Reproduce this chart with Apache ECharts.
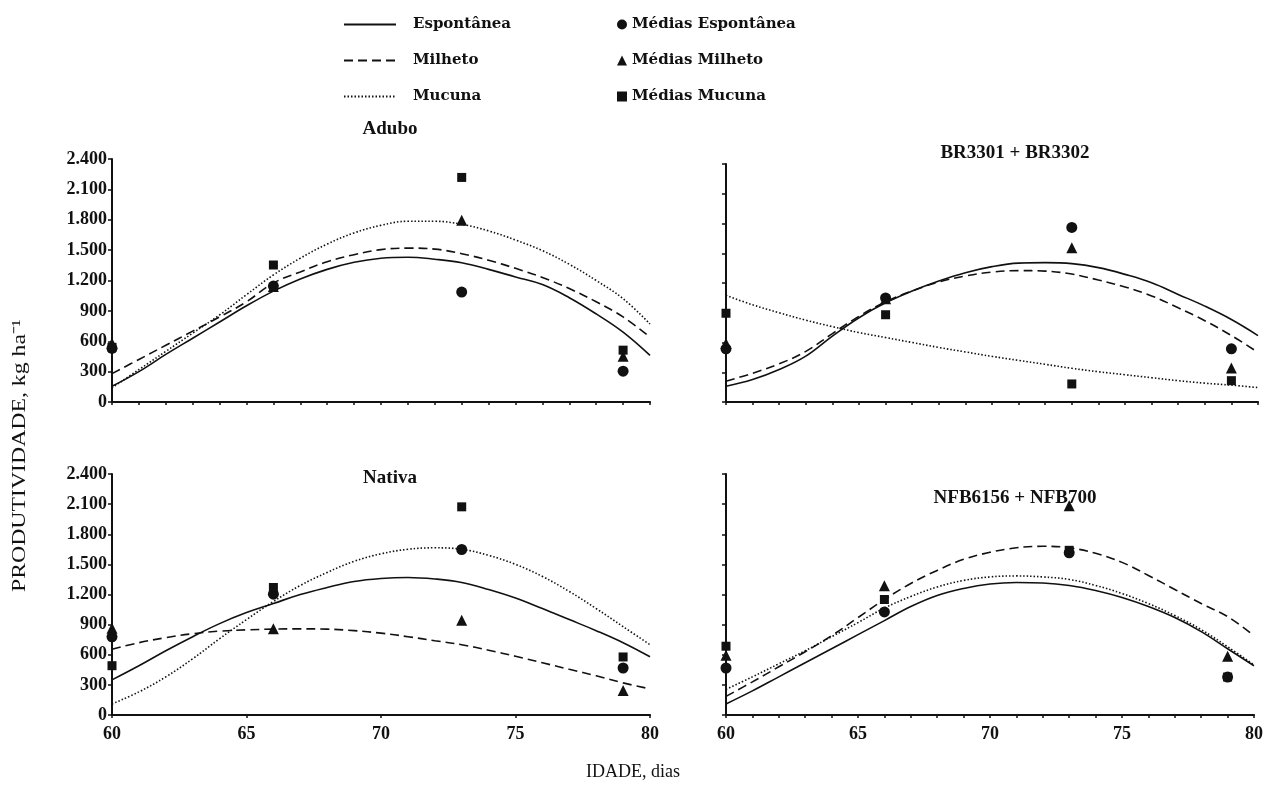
<!DOCTYPE html>
<html>
<head>
<meta charset="utf-8">
<script src="https://cdn.jsdelivr.net/npm/echarts@6/dist/echarts.min.js"></script>
<style>html,body{margin:0;padding:0;background:#fff}#c{width:1266px;height:789px}</style>
</head>
<body>
<div id="c"></div>
<script>
// ---- data ----
const days = [60,61,62,63,64,65,66,67,68,69,70,71,72,73,74,75,76,77,78,79,80];
const obsDays = [60,66,73,79];
const xTicks = [60,65,70,75,80];
const yTicks = [0,300,600,900,1200,1500,1800,2100,2400];

// Adubo fitted curves
const aduboEspCurve = [155,300,470,630,790,950,1095,1215,1310,1380,1420,1430,1410,1375,1310,1235,1160,1030,870,690,460];
const aduboMilCurve = [280,420,560,700,840,990,1175,1285,1385,1455,1505,1520,1510,1465,1400,1320,1230,1120,990,840,640];
const aduboMucCurve = [140,320,500,680,860,1060,1255,1420,1560,1670,1745,1785,1785,1755,1690,1600,1495,1360,1200,1020,770];
// Adubo means
const aduboEspObs = [530,1145,1086,304];
const aduboMilObs = [580,1140,1795,452];
const aduboMucObs = [540,1353,2218,512];

// BR3301 + BR3302 fitted curves
const brEspCurve = [158,226,327,462,664,850,1000,1119,1220,1304,1365,1400,1405,1395,1355,1287,1203,1085,967,832,670];
const brMilCurve = [210,290,385,510,690,865,1010,1120,1210,1270,1310,1325,1320,1290,1230,1160,1070,950,820,670,500];
const brMucCurve = [1075,980,900,825,760,700,650,600,550,505,460,420,380,340,305,275,245,215,190,170,145];
// BR means
const brEspObs = [536,1050,1760,536];
const brMilObs = [590,1040,1555,344];
const brMucObs = [895,880,182,215];

// Nativa fitted curves
const natEspCurve = [350,490,640,780,910,1020,1110,1200,1270,1330,1360,1370,1355,1320,1250,1165,1060,950,840,720,580];
const natMilCurve = [655,720,770,810,835,848,855,858,855,840,815,780,740,700,645,585,520,455,390,320,260];
const natMucCurve = [110,230,380,560,760,950,1130,1290,1420,1530,1605,1650,1665,1650,1590,1500,1380,1230,1060,880,700];
// Nativa means
const natEspObs = [779,1203,1648,468];
const natMilObs = [865,859,943,244];
const natMucObs = [491,1270,2073,578];

// NFB6156 + NFB700 fitted curves
const nfbEspCurve = [110,240,380,520,660,800,940,1080,1190,1260,1305,1320,1315,1290,1240,1170,1080,970,830,660,490];
const nfbMilCurve = [185,330,480,630,790,970,1150,1310,1440,1550,1620,1665,1680,1665,1610,1520,1390,1250,1110,980,790];
const nfbMucCurve = [255,380,510,640,780,920,1065,1180,1275,1340,1375,1385,1375,1350,1290,1210,1110,990,850,680,500];
// NFB means
const nfbEspObs = [468,1026,1615,378];
const nfbMilObs = [595,1287,2083,585];
const nfbMucObs = [685,1150,1640,378];

const panels = [
  {title:'Adubo', curves:[aduboEspCurve,aduboMilCurve,aduboMucCurve], obs:[aduboEspObs,aduboMilObs,aduboMucObs]},
  {title:'BR3301 + BR3302', curves:[brEspCurve,brMilCurve,brMucCurve], obs:[brEspObs,brMilObs,brMucObs]},
  {title:'Nativa', curves:[natEspCurve,natMilCurve,natMucCurve], obs:[natEspObs,natMilObs,natMucObs]},
  {title:'NFB6156 + NFB700', curves:[nfbEspCurve,nfbMilCurve,nfbMucCurve], obs:[nfbEspObs,nfbMilObs,nfbMucObs]}
];
const lineNames = ['Espontânea','Milheto','Mucuna'];
const obsNames = ['Médias Espontânea','Médias Milheto','Médias Mucuna'];

// ---- layout ----
const SERIF = '"Liberation Serif","Times New Roman",serif';
const WIDESERIF = '"DejaVu Serif","Liberation Serif",serif';
const grids = [
  {left:112, top:159, width:538, height:243},
  {left:726, top:164, width:532, height:238},
  {left:112, top:474, width:538, height:241},
  {left:726, top:474, width:532, height:241}
];
const titlePos = [
  {x:385, y:115},
  {x:1010, y:139},
  {x:385, y:464},
  {x:1010, y:484}
];
const lineStyles = [
  {type:'solid', width:1.6},
  {type:[9,5], width:1.6},
  {type:[1.5,2], width:1.6}
];
const symbols = ['circle','triangle','rect'];
const symSizes = [11,11,9];

function fmt(v){ return v >= 1000 ? Math.floor(v/1000) + '.' + String(v%1000).padStart(3,'0') : String(v); }

const xAxes = [], yAxes = [], series = [], titles = [];
panels.forEach((p,i)=>{
  const right = (i % 2) === 1;
  xAxes.push({
    gridIndex:i, type:'value', min:xTicks[0], max:xTicks[xTicks.length-1], interval:5,
    axisLine:{show:true, onZero:false, lineStyle:{color:'#111', width:2.2}},
    axisTick:{show:true, length:3, lineStyle:{color:'#111', width:1.5}},
    minorTick:{show: i !== 2, splitNumber:5, length:3, lineStyle:{color:'#111', width:1.5}},
    splitLine:{show:false},
    axisLabel:{show: i >= 2, color:'#111', fontFamily:SERIF, fontWeight:'bold', fontSize:18, margin:10}
  });
  yAxes.push({
    gridIndex:i, type:'value', min:yTicks[0], max:yTicks[yTicks.length-1], interval:300,
    axisLine:{show:true, lineStyle:{color:'#111', width:2}},
    axisTick:{show:true, length:4, lineStyle:{color:'#111', width:1.5}},
    splitLine:{show:false},
    axisLabel:{show: !right, color:'#111', fontFamily:SERIF, fontWeight:'bold', fontSize:18, margin:5, formatter:fmt}
  });
  titles.push({
    text:p.title, left:titlePos[i].x, top:titlePos[i].y, textAlign:'center',
    textStyle:{fontFamily:SERIF, fontWeight:'bold', fontSize:19, color:'#111'}
  });
  p.curves.forEach((c,k)=>{
    series.push({
      name:lineNames[k], type:'line', xAxisIndex:i, yAxisIndex:i, smooth:0.4,
      symbol:'none', data: days.map((d,j)=>[d,c[j]]),
      lineStyle:Object.assign({color:'#111'}, lineStyles[k]), itemStyle:{color:'#111'},
      z:2, silent:true, animation:false
    });
  });
  p.obs.forEach((o,k)=>{
    series.push({
      name:obsNames[k], type:'scatter', xAxisIndex:i, yAxisIndex:i,
      symbol:symbols[k], symbolSize:symSizes[k],
      data: obsDays.map((d,j)=>[d,o[j]]),
      itemStyle:{color:'#111', opacity:1}, z:3, silent:true, animation:false
    });
  });
});

const legendText = {fontFamily:WIDESERIF, fontWeight:'bold', fontSize:15, color:'#111'};
const option = {
  backgroundColor:'#fff',
  animation:false,
  title: titles,
  legend:[
    {data:lineNames.map(n=>({name:n})), orient:'vertical', left:338, top:12, itemWidth:52, itemHeight:14, itemGap:21,
     itemStyle:{opacity:0},
     textStyle:Object.assign({padding:[0,0,0,12]}, legendText), selectedMode:false},
    {data:obsNames.map(n=>({name:n})), orient:'vertical', left:612, top:12, itemWidth:10, itemHeight:10, itemGap:21,
     textStyle:legendText, selectedMode:false}
  ],
  grid: grids,
  xAxis: xAxes,
  yAxis: yAxes,
  series: series,
  graphic:[
    {type:'text', x:11, y:592, rotation:Math.PI/2, scaleX:1.25, silent:true,
     style:{text:'PRODUTIVIDADE, kg ha⁻¹', fontFamily:SERIF, fontSize:19, fill:'#111'}},
    {type:'text', left:'center', top:763, style:{text:'IDADE, dias', fontFamily:SERIF, fontSize:18, fill:'#111'}}
  ]
};
const chart = echarts.init(document.getElementById('c'), null, {renderer:'canvas'});
chart.setOption(option);
</script>
</body>
</html>
